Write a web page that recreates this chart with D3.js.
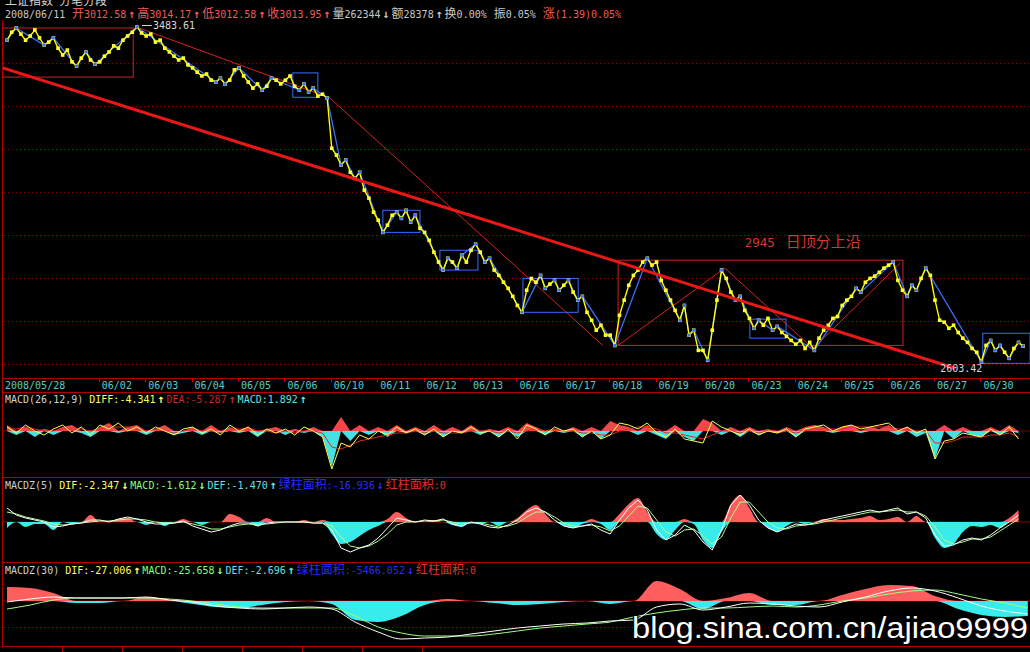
<!DOCTYPE html>
<html><head><meta charset="utf-8">
<script src="https://cdn.jsdelivr.net/npm/d3@7"></script>
<style>
html,body{margin:0;padding:0;background:#000;overflow:hidden;}
svg{display:block;}
text.mono{font-family:"DejaVu Sans Mono","Noto Sans CJK SC",monospace;}
</style></head><body>
<svg id="c" width="1030" height="652"></svg>
<script>
// ---------------- data ----------------
const titleText = ["上证指数", "分笔分段"];
const quoteDate = "2008/06/11";
const quoteFields = [["开","3012.58","↑"],["高","3014.17","↑"],["低","3012.58","↑"],["收","3013.95","↑"],
  ["量","262344","↓"],["额","28378","↑"],["换","0.00%",""],["振","0.05%",""],["涨","(1.39)0.05%",""]];
const dayLabels = ["2008/05/28","05/29","06/02","06/03","06/04","06/05","06/06","06/10","06/11","06/12","06/13",
  "06/16","06/17","06/18","06/19","06/20","06/23","06/24","06/25","06/26","06/27","06/30"];
// price, 10 ticks per day
const prices = [
 3449,3470,3481,3465,3449,3460,3476,3455,3436,3444,
 3455,3428,3410,3423,3392,3381,3402,3418,3397,3386,
 3392,3407,3418,3434,3428,3449,3460,3470,3483.61,3468,
 3460,3465,3444,3449,3428,3418,3407,3397,3402,3384,
 3376,3365,3355,3360,3344,3339,3349,3334,3344,3371,
 3376,3355,3339,3323,3334,3318,3328,3349,3344,3334,
 3344,3355,3328,3318,3334,3313,3323,3302,3307,3297,
 3165,3147,3121,3134,3102,3086,3102,3055,3034,2997,
 2976,2944,2963,2989,2997,2981,3002,2971,2989,2955,
 2944,2923,2892,2866,2845,2876,2866,2850,2884,2866,
 2897,2913,2892,2866,2876,2845,2831,2813,2797,2776,
 2752,2734,2792,2823,2813,2831,2797,2808,2818,2792,
 2805,2818,2787,2766,2776,2734,2713,2687,2700,2674,
 2674,2647,2726,2766,2805,2831,2845,2866,2876,2858,
 2866,2818,2792,2766,2739,2713,2752,2674,2687,2634,
 2634,2608,2687,2766,2845,2823,2787,2766,2776,2739,
 2718,2692,2713,2700,2718,2687,2697,2681,2671,2660,
 2650,2660,2639,2655,2634,2666,2687,2700,2718,2723,
 2752,2766,2776,2797,2787,2813,2823,2829,2839,2850,
 2858,2866,2818,2792,2776,2805,2792,2823,2850,2831,
 2766,2713,2708,2692,2700,2681,2666,2655,2639,2629,
 2603.42,2647,2660,2634,2647,2629,2613,2639,2655,2645];
const pivotIdx = [0,2,8,10,15,17,19,28,45,46,47,50,55,57,63,64,65,66,69,72,73,75,76,81,84,85,86,87,88,94,95,97,98,
  101,103,104,111,115,116,118,119,121,123,124,131,138,145,146,147,148,151,154,157,158,161,162,165,166,174,183,184,
  191,194,195,196,198,210,212,213,214,216,218,219];
// [day0, day1, priceTop, priceBottom]
const blueBoxes = [[6.16,6.70,3363,3299],[8.10,8.90,3002,2944],[9.33,10.15,2897,2845],[11.12,12.31,2823,2734],
  [16.01,16.79,2716,2666],[21.03,22.05,2679,2600]];
const redBoxes = [[-0.09,2.72,3481,3352],[13.17,19.31,2871,2647]];
// [day, price] pairs for thin trend strokes
const thinLines = [[[2.78,3484],[6.96,3297]],[[6.96,3297],[12.84,2647]],[[13.17,2647],[15.47,2850]],
  [[15.47,2850],[17.37,2639]],[[17.37,2639],[19.25,2863]]];
const mainTrend = [[-0.09,3376],[20.43,2587]];
const gridPrices = [3389,3276,3163,3050,2937,2824,2710,2597];
const annotation = {day:15.9, price:2906, num:"2945", text:"日顶分上沿"};

// MACD(26,12,9), 5 per day
const macdHist = [3,-2,2,-3,1, -2,2,3,-1,-3, 2,4,-1,2,3, -2,1,3,-2,-1, 2,-2,3,-1,2, -1,2,-3,1,2, -2,1,-1,2,-3,
  -18,7,-5,3,-2, 2,-3,3,-1,2, -2,3,-3,2,-1, 3,-2,1,-3,2, -3,4,2,-2,1, -1,2,-3,2,-4, 5,3,2,-2,3, -2,-4,3,-3,-5,
  6,4,-2,2,-3, 2,-2,1,-1,2, -3,2,3,2,-1, 2,3,-1,2,1, 3,-2,2,-3,-1, -14,3,-4,2,-2, -3,2,-2,3,-1];
const macdDiff = [2,-1,3,0,-2, 1,3,-1,2,-2, 3,1,4,0,2, -1,2,0,-2,1, 2,-1,1,-2,3, 0,2,-2,1,-1, 1,-2,2,0,-3,
  -19,-6,-8,-2,-4, 0,-2,2,-1,1, -2,1,-3,0,-1, 2,-1,0,-3,1, -4,3,1,-2,2, 0,1,-3,0,-4, -2,4,3,1,4, -1,-3,1,-4,-5,
  -6,5,2,0,-2, 1,-2,0,-1,1, -3,1,2,3,0, 2,3,1,2,3, 4,0,2,-1,1, -14,-5,-4,-1,-2, -3,1,-2,2,-4];
const macdDea = [1,1,2,1,0, 0,1,1,1,0, 1,2,2,2,1, 0,1,0,-1,0, 1,0,0,-1,1, 1,1,0,0,-1, 0,-1,0,0,-1,
  -8,-9,-7,-5,-4, -3,-2,-1,-1,0, -1,0,-1,-1,-1, 0,0,0,-1,0, -1,0,1,0,1, 0,0,-1,-1,-2, -2,0,1,2,2, 1,-1,-1,-2,-3,
  -4,-2,0,0,-1, 0,-1,0,-1,0, -1,0,1,1,1, 1,2,2,2,2, 2,1,1,0,0, -6,-6,-5,-3,-3, -3,-2,-2,-1,-3];
const macdLabel = {name:"MACD(26,12,9)", diff:"-4.341", dea:"-5.287", macd:"1.892"};

// MACDZ(5), 5 per day
const z5Dif = [14,7,4,2,0, -5,-4,-2,-1,2, 2,0,3,5,3, 0,-2,-2,-1,1, -4,-7,-10,-8,-4, -1,-1,-4,-1,0, 0,0,0,-1,-1,
  -8,-26,-30,-26,-23, -16,-6,4,2,0, 2,1,3,-2,-4, 0,-2,-5,-6,-3, 2,10,14,10,2, -4,-6,-4,-2,-8, -12,2,14,22,12,
  -8,-18,-13,-3,-8, -20,-28,-8,17,27, 17,2,-6,-10,-6, -2,-3,-1,2,4, 6,8,10,12,10, 12,14,8,10,4,
  -13,-24,-23,-18,-16, -18,-13,-6,0,7];
const z5Macd = [10,8,5,3,1, -2,-3,-2,-1,0, 1,1,2,3,3, 2,0,-1,-1,0, -2,-4,-7,-7,-5, -3,-2,-2,-2,-1, 0,0,0,-1,-1,
  -4,-15,-24,-26,-24, -19,-12,-3,0,0, 1,1,2,0,-2, -1,-1,-3,-5,-4, -1,5,10,10,5, -1,-4,-4,-3,-5, -9,-4,6,16,14,
  2,-10,-14,-8,-7, -14,-22,-15,4,20, 20,10,0,-6,-7, -4,-3,-2,0,2, 4,6,8,10,10, 11,12,10,10,6,
  -5,-18,-22,-20,-17, -17,-15,-9,-3,3];
const z5Hist = [-6,0,-5,-2,-2, -8,0,-2,0,7, 0,0,3,4,0, -3,0,-4,0,3, 0,-3,0,0,8, 5,0,-4,4,0, 0,0,2,0,2,
  -12,-22,-20,-14,-8, -4,3,10,4,0, 0,2,0,-3,-5, 0,-2,0,-4,0, 4,12,17,8,0, -4,-6,-2,3,-2, -8,8,18,24,10,
  -12,-18,-8,3,-2, -18,-26,-10,18,27, 14,0,-6,-10,-4, 0,-2,0,3,2, 2,3,4,6,2, 3,5,0,6,0,
  -16,-26,-22,-10,-4, -5,-3,-6,4,12];
const z5Label = {name:"MACDZ(5)", dif:"-2.347", macd:"-1.612", def:"-1.470", green:"-16.936", red:"0"};

// MACDZ(30), 2 per day (plus end point)
const z30Dif = [-1,2,4,3,3,3,4,1,-1,-5,-7,-8,-7,-6,-8,-21,-31,-38,-37,-36,-33,-30,-27,-25,-23,-22,-20,-19,
  -6,-3,-9,-6,-2,-3,-5,-6,-1,4,10,13,10,3,-5,-10,-13];
const z30Macd = [-8,-4,1,3,3,3,3,2,0,-3,-6,-7,-7,-7,-7,-15,-26,-32,-35,-35,-35,-33,-30,-27,-25,-23,-21,-16,
  -12,-9,-7,-7,-6,-5,-6,-4,0,3,7,10,11,7,2,-2,-7];
const z30Hist = [14,13,8,-2,-2,0,4,1,-3,-6,-7,-4,-1,0,-3,-19,-21,-15,-4,2,0,-2,-4,-3,-1,0,-3,0,
  20,12,-8,3,8,-4,-4,0,6,12,16,15,5,-8,-14,-16,-15];
const z30Label = {name:"MACDZ(30)", dif:"-27.006", macd:"-25.658", def:"-2.696", green:"-5466.052", red:"0"};

const watermark = "blog.sina.com.cn/ajiao9999";

// ---------------- drawing ----------------
const W = 1030, H = 652;
const svg = d3.select("#c");
svg.append("rect").attr("width", W).attr("height", H).attr("fill", "#000");
const defs = svg.append("defs");
function clip(id, y0, y1){ defs.append("clipPath").attr("id", id).append("rect").attr("x",3).attr("y",y0).attr("width",W-3).attr("height",y1-y0); }
clip("cMain", 20, 378); clip("cMacd", 393, 477); clip("cZ5", 478, 562); clip("cZ30", 563, 646);

const x = d3.scaleLinear().domain([0, 22]).range([7, 1027.8]);
const yP = d3.scaleLinear().domain([2603.42, 3483.61]).range([362, 27]);
const yM = d3.scaleLinear().domain([-20, 12]).range([471, 407]);
const yZ5 = d3.scaleLinear().domain([-35, 45]).range([557, 477]);
const yZ30 = d3.scaleLinear().domain([-40, 40]).range([641, 561]);

const RED_LINE = "#b00000", DOT = "#8a0000";
const histRed = "#ff5e5e", histCyan = "#38ecec";

// grid
const main = svg.append("g").attr("clip-path", "url(#cMain)");
main.selectAll("line.grid").data(gridPrices).join("line")
  .attr("x1", 4).attr("x2", W).attr("y1", d => Math.round(yP(d)) + 0.5).attr("y2", d => Math.round(yP(d)) + 0.5)
  .attr("stroke", DOT).attr("stroke-dasharray", "1,3");

// panel frames
[378.5, 392.5, 477.5, 562.5, 646.5].forEach(y => svg.append("line").attr("x1", 2).attr("x2", W).attr("y1", y).attr("y2", y).attr("stroke", RED_LINE));
svg.append("line").attr("x1", 2.5).attr("x2", 2.5).attr("y1", 20).attr("y2", 646).attr("stroke", RED_LINE);

// red boxes & thin lines
main.selectAll("rect.rbox").data(redBoxes).join("rect")
  .attr("x", d => x(d[0])).attr("y", d => yP(d[2])).attr("width", d => x(d[1]) - x(d[0])).attr("height", d => yP(d[3]) - yP(d[2]))
  .attr("fill", "none").attr("stroke", "#d02020").attr("stroke-width", 1);
main.selectAll("line.thin").data(thinLines).join("line")
  .attr("x1", d => x(d[0][0])).attr("y1", d => yP(d[0][1])).attr("x2", d => x(d[1][0])).attr("y2", d => yP(d[1][1]))
  .attr("stroke", "#d82020").attr("stroke-width", 1);

// blue boxes
main.selectAll("rect.bbox").data(blueBoxes).join("rect")
  .attr("x", d => x(d[0])).attr("y", d => yP(d[2])).attr("width", d => x(d[1]) - x(d[0])).attr("height", d => yP(d[3]) - yP(d[2]))
  .attr("fill", "none").attr("stroke", "#3a6cff").attr("stroke-width", 1);

// blue zigzag
const px = i => x(i / 10);
const blueLine = d3.line().x(i => px(i)).y(i => yP(prices[i]));
main.append("path").attr("d", blueLine(pivotIdx)).attr("fill", "none").attr("stroke", "#3a70ff").attr("stroke-width", 1.3);

// yellow price
const priceLine = d3.line().x((d, i) => px(i)).y(d => yP(d));
main.append("path").attr("d", priceLine(prices)).attr("fill", "none").attr("stroke", "#ffff00").attr("stroke-width", 1.4);
main.selectAll("rect.pt").data(prices).join("rect")
  .attr("x", (d, i) => px(i) - 1.8).attr("y", d => yP(d) - 1.8).attr("width", 3.6).attr("height", 3.6).attr("fill", "#ffff30");
main.selectAll("rect.pv").data(pivotIdx).join("rect")
  .attr("x", i => px(i) - 1.5).attr("y", i => yP(prices[i]) - 1.5).attr("width", 3).attr("height", 3).attr("fill", "#3a70ff");

// thick trend line
main.append("line").attr("x1", x(mainTrend[0][0])).attr("y1", yP(mainTrend[0][1]))
  .attr("x2", x(mainTrend[1][0])).attr("y2", yP(mainTrend[1][1]))
  .attr("stroke", "#e81818").attr("stroke-width", 3);

// high / low labels
const hiI = d3.maxIndex(prices), loI = d3.minIndex(prices);
main.append("line").attr("x1", px(hiI) + 5).attr("x2", px(hiI) + 15).attr("y1", yP(prices[hiI]) - 1.5).attr("y2", yP(prices[hiI]) - 1.5).attr("stroke", "#d8d8d8");
main.append("text").attr("class", "mono").attr("x", px(hiI) + 16).attr("y", yP(prices[hiI]) + 2).attr("font-size", 10).attr("fill", "#d8d8d8").text(d3.format(".2f")(prices[hiI]));
main.append("text").attr("class", "mono").attr("x", px(loI) + 1).attr("y", yP(prices[loI]) + 10).attr("text-anchor", "end").attr("font-size", 10).attr("fill", "#d8d8d8").text(d3.format(".2f")(prices[loI]));

// annotation
const an = main.append("text").attr("class", "mono").attr("x", x(annotation.day)).attr("y", yP(annotation.price)).attr("fill", "#d83434");
an.append("tspan").attr("font-size", 12.5).text(annotation.num);
an.append("tspan").attr("dx", 11).attr("font-size", 15).text(annotation.text);

// segmented texts
function segText(x0, y0, segs) {
  const t = svg.append("text").attr("class", "mono").attr("x", x0).attr("y", y0).attr("font-size", 10);
  segs.forEach(s => {
    const ts = t.append("tspan").attr("fill", s.c).text(s.t);
    if (s.cjk) ts.attr("font-size", 12);
    if (s.arrow) ts.attr("font-size", 11.5).attr("font-weight", "bold");
    if (s.dx) ts.attr("dx", s.dx);
  });
}
// title (cut at top, as in the reference)
segText(5, 5, [{t: titleText[0], c: "#d0d0d0", cjk: 1}, {t: titleText[1], c: "#d0d0d0", cjk: 1, dx: 6}]);
// quote line
const qSegs = [{t: quoteDate, c: "#c8c8c8"}];
quoteFields.forEach((f, i) => {
  const col = (i < 4 || i === 8) ? "#f05a5a" : "#c8c8c8";
  const prevArrow = i > 0 && quoteFields[i - 1][2];
  qSegs.push({t: f[0], c: col, cjk: 1, dx: i === 0 ? 6.8 : (prevArrow ? 2 : 7)});
  qSegs.push({t: f[1], c: col});
  if (f[2]) qSegs.push({t: f[2], c: col, dx: 2, arrow: 1});
});
segText(5, 18, qSegs);

// date axis
svg.selectAll("text.day").data(dayLabels).join("text").attr("class", "mono")
  .attr("x", (d, i) => x(i) + (i === 0 ? -2 : 2)).attr("y", 389).attr("font-size", 10).attr("fill", "#5ccaca")
  .text((d, i) => i === 1 ? "" : d);
svg.selectAll("line.tick").data(d3.range(2, dayLabels.length)).join("line")
  .attr("x1", d => Math.round(x(d)) - 0.5).attr("x2", d => Math.round(x(d)) - 0.5).attr("y1", 378).attr("y2", 382)
  .attr("stroke", "#c00000");

// MACD panel
const gM = svg.append("g").attr("clip-path", "url(#cMacd)");
const mx = i => x(i / 5);
gM.append("line").attr("x1", 3).attr("x2", W).attr("y1", yM(0)).attr("y2", yM(0)).attr("stroke", "#6a0000");
function histArea(g, data, xf, y, curve, rc, cc) {
  const pos = d3.area().x((d, i) => xf(i)).y0(y(0)).y1(d => y(Math.max(0, d))).curve(curve);
  const neg = d3.area().x((d, i) => xf(i)).y0(y(0)).y1(d => y(Math.min(0, d))).curve(curve);
  g.append("path").attr("d", pos(data)).attr("fill", rc);
  g.append("path").attr("d", neg(data)).attr("fill", cc);
}
histArea(gM, macdHist, mx, yM, d3.curveLinear, "#f04848", "#48e0e0");
const lineOf = (xf, y, curve) => d3.line().x((d, i) => xf(i)).y(d => y(d)).curve(curve || d3.curveLinear);
gM.append("path").attr("d", lineOf(mx, yM)(macdDea)).attr("fill", "none").attr("stroke", "#e02828").attr("stroke-width", 1);
gM.append("path").attr("d", lineOf(mx, yM)(macdDiff)).attr("fill", "none").attr("stroke", "#ffff50").attr("stroke-width", 1);
segText(5, 403, [{t: macdLabel.name, c: "#d0d0d0"},
  {t: "DIFF:" + macdLabel.diff, c: "#ffff60", dx: 6}, {t: "↑", c: "#ffff60", dx: 2, arrow: 1},
  {t: "DEA:" + macdLabel.dea, c: "#c82828", dx: 2}, {t: "↑", c: "#c82828", dx: 2, arrow: 1},
  {t: "MACD:" + macdLabel.macd, c: "#60e0e0", dx: 2}, {t: "↑", c: "#60e0e0", dx: 2, arrow: 1}]);

// MACDZ(5)
const g5 = svg.append("g").attr("clip-path", "url(#cZ5)");
g5.append("line").attr("x1", 3).attr("x2", W).attr("y1", yZ5(0)).attr("y2", yZ5(0)).attr("stroke", "#8a0000");
histArea(g5, z5Hist, mx, yZ5, d3.curveMonotoneX, histRed, histCyan);
g5.append("path").attr("d", lineOf(mx, yZ5)(z5Macd)).attr("fill", "none").attr("stroke", "#b0ff90").attr("stroke-width", 1);
g5.append("path").attr("d", lineOf(mx, yZ5)(z5Dif)).attr("fill", "none").attr("stroke", "#ffffff").attr("stroke-width", 1);
function zLabel(y, L) {
  segText(5, y, [{t: L.name, c: "#d0d0d0"},
    {t: "DIF:" + L.dif, c: "#ffff60", dx: 6}, {t: L.difA, c: "#ffff60", dx: 2, arrow: 1},
    {t: "MACD:" + L.macd, c: "#80ff80", dx: 2}, {t: "↓", c: "#80ff80", dx: 2, arrow: 1},
    {t: "DEF:" + L.def, c: "#60e0e0", dx: 2}, {t: "↑", c: "#60e0e0", dx: 2, arrow: 1},
    {t: "绿柱面积", c: "#2a2aff", cjk: 1, dx: 2}, {t: ":" + L.green, c: "#2a2aff"}, {t: "↓", c: "#2a2aff", dx: 2, arrow: 1},
    {t: "红柱面积", c: "#e03030", cjk: 1, dx: 2}, {t: ":" + L.red, c: "#e03030"}]);
}
zLabel(489, Object.assign({difA: "↓"}, z5Label));

// MACDZ(30)
const g30 = svg.append("g").attr("clip-path", "url(#cZ30)");
const hx = i => x(i / 2);
g30.append("line").attr("x1", 3).attr("x2", W).attr("y1", yZ30(0)).attr("y2", yZ30(0)).attr("stroke", "#8a0000");
g30.append("line").attr("x1", 4).attr("x2", W).attr("y1", 627.5).attr("y2", 627.5).attr("stroke", DOT).attr("stroke-dasharray", "1,3");
histArea(g30, z30Hist, hx, yZ30, d3.curveMonotoneX, histRed, histCyan);
g30.append("path").attr("d", lineOf(hx, yZ30, d3.curveMonotoneX)(z30Macd)).attr("fill", "none").attr("stroke", "#a0ff80").attr("stroke-width", 1);
g30.append("path").attr("d", lineOf(hx, yZ30, d3.curveMonotoneX)(z30Dif)).attr("fill", "none").attr("stroke", "#ffffff").attr("stroke-width", 1);
zLabel(574, Object.assign({difA: "↑"}, z30Label));

// bottom tab strip
d3.range(7).forEach(i => svg.append("line").attr("x1", 62.5 + 60 * i).attr("x2", 62.5 + 60 * i).attr("y1", 647).attr("y2", 652).attr("stroke", RED_LINE));

// watermark
svg.append("text").attr("x", 632).attr("y", 638)
  .style("font-family", "'Liberation Sans', Arial, sans-serif")
  .attr("font-size", 29).attr("fill", "#ffffff").attr("stroke", "#000").attr("stroke-width", 2)
  .attr("paint-order", "stroke").attr("textLength", 396).attr("lengthAdjust", "spacingAndGlyphs")
  .text(watermark);
</script>
</body></html>
